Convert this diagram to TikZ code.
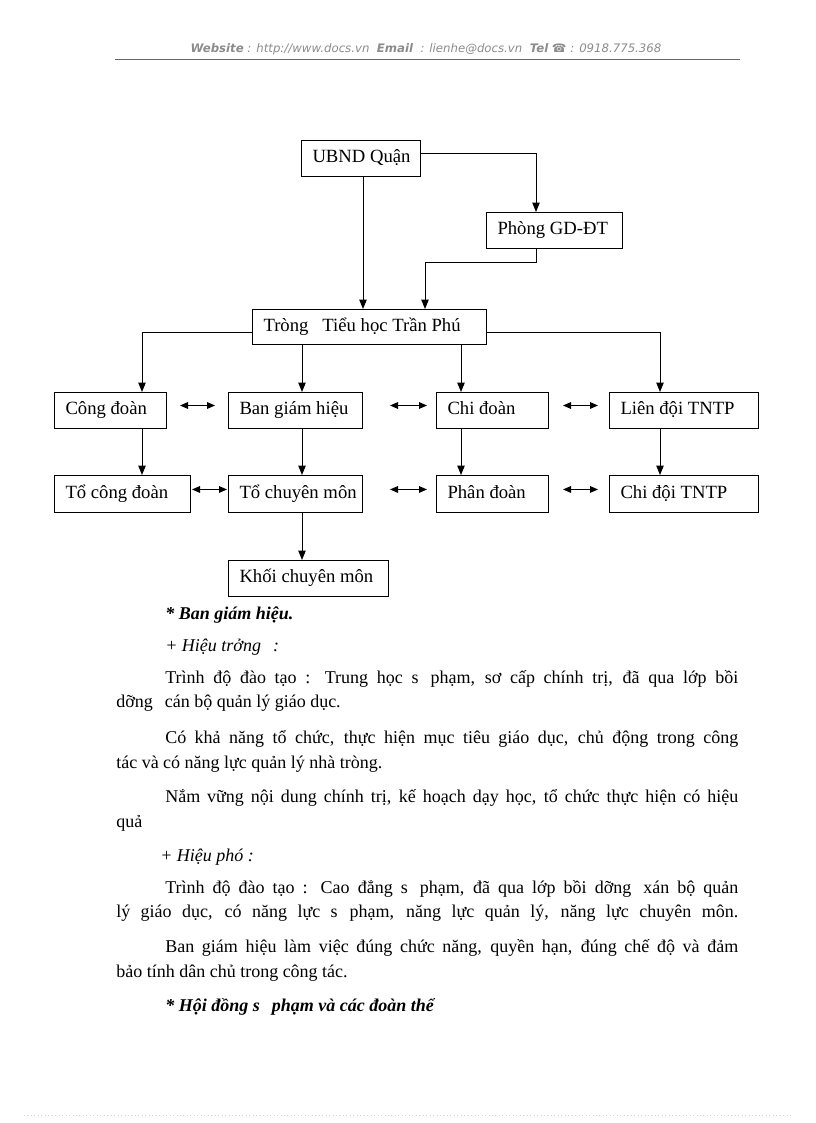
\documentclass[tikz,border=0pt]{standalone}
\usepackage{fontspec}
\setmainfont{Liberation Serif}
\newfontfamily\hdrfont{DejaVu Sans}
\usetikzlibrary{arrows.meta}
\newcommand\gapw{\hspace{9pt}}
\tikzset{
  box/.style={draw, line width=0.75pt, anchor=north west, inner xsep=8.25pt, inner ysep=0pt,
    font=\fontsize{14pt}{16pt}\selectfont, text height=9.5pt, text depth=3pt},
  arr/.style={line width=0.75pt, -{Triangle[length=7pt,width=5.5pt]}},
  darr/.style={line width=0.75pt, {Triangle[length=6pt,width=5pt]}-{Triangle[length=6pt,width=5pt]}},
  txt/.style={anchor=base west, inner sep=0pt, font=\fontsize{13.5pt}{16pt}\selectfont},
}
\begin{document}
\begin{tikzpicture}[x=0.75pt,y=-0.75pt]
\useasboundingbox[fill=white] (0,0) rectangle (816,1123);
% header
\node[anchor=base, inner sep=0pt, text=gray!90, font=\hdrfont\fontsize{8.8pt}{10pt}\selectfont\itshape] (hdr) at (426,53)
  {\textbf{Website} : http://www.docs.vn~~\textbf{Email}~~: lienhe@docs.vn~~\textbf{Tel} ☎ : 0918.775.368};
\draw[gray!80!black, line width=0.6pt] (115,59) -- (740,59);
\draw[gray!35, dotted, line width=0.6pt] (24,1115) -- (792,1115);

% boxes
\node[box, minimum width=89.25pt, minimum height=27pt] (ubnd) at (301,140) {\makebox[72.75pt][l]{UBND Quận}};
\node[box, minimum width=102pt, minimum height=27pt] (phong) at (486,212) {\makebox[85.5pt][l]{Phòng GD-ĐT}};
\node[box, minimum width=175.5pt, minimum height=26.25pt] (truong) at (252,309) {\makebox[159pt][l]{Tròng\hspace{10.5pt}Tiểu học Trần Phú}};
\node[box, minimum width=84pt, minimum height=27pt] (congdoan) at (54,392) {\makebox[67.5pt][l]{Công đoàn}};
\node[box, minimum width=100.5pt, minimum height=27pt] (bgh) at (228,392) {\makebox[84pt][l]{Ban giám hiệu}};
\node[box, minimum width=84pt, minimum height=27pt] (chidoan) at (436,392) {\makebox[67.5pt][l]{Chi đoàn}};
\node[box, minimum width=111.75pt, minimum height=27pt] (liendoi) at (609,392) {\makebox[95.25pt][l]{Liên đội TNTP}};
\node[box, minimum width=102pt, minimum height=27.75pt] (tocd) at (54,475) {\makebox[85.5pt][l]{Tổ công đoàn}};
\node[box, minimum width=100.5pt, minimum height=27.75pt] (tocm) at (228,475) {\makebox[84pt][l]{Tổ chuyên môn}};
\node[box, minimum width=84pt, minimum height=27.75pt] (phandoan) at (436,475) {\makebox[67.5pt][l]{Phân đoàn}};
\node[box, minimum width=111.75pt, minimum height=27.75pt] (chidoi) at (609,475) {\makebox[95.25pt][l]{Chi đội TNTP}};
\node[box, minimum width=120pt, minimum height=27pt] (khoi) at (228,560) {\makebox[103.5pt][l]{Khối chuyên môn}};

% guide coordinates
\coordinate (c0) at ([xshift=66pt]congdoan.north west);
\coordinate (c1) at ([xshift=55.5pt]bgh.north west);
\coordinate (c2) at ([xshift=18.75pt]chidoan.north west);
\coordinate (c3) at ([xshift=38.25pt]liendoi.north west);

% connectors
\draw[arr] ([yshift=3.75pt]ubnd.east) -| ([xshift=37.5pt]phong.north west);
\draw[arr] ([xshift=46.5pt]ubnd.south west) -- ([xshift=46.5pt]ubnd.south west |- truong.north);
\draw[arr] ([xshift=37.5pt]phong.south west) -- ++(0,13) -| ([xshift=129.75pt]truong.north west);
\draw[arr] ([yshift=-4.1pt]truong.west) -| (c0);
\draw[arr] (truong.south -| c1) -- (c1);
\draw[arr] (truong.south -| c2) -- (c2);
\draw[arr] ([yshift=-4.1pt]truong.east) -| (c3);
\draw[arr] (congdoan.south -| c0) -- (tocd.north -| c0);
\draw[arr] (bgh.south -| c1) -- (tocm.north -| c1);
\draw[arr] (chidoan.south -| c2) -- (phandoan.north -| c2);
\draw[arr] (liendoi.south -| c3) -- (chidoi.north -| c3);
\draw[arr] (tocm.south -| c1) -- (khoi.north -| c1);

\draw[darr] ([xshift=9.75pt,yshift=3.75pt]congdoan.east) -- ([xshift=-9.75pt,yshift=3.75pt]bgh.west);
\draw[darr] ([xshift=20.25pt,yshift=3.75pt]bgh.east) -- ([xshift=-6.75pt,yshift=3.75pt]chidoan.west);
\draw[darr] ([xshift=10.5pt,yshift=3.75pt]chidoan.east) -- ([xshift=-8.25pt,yshift=3.75pt]liendoi.west);
\draw[darr] ([xshift=0.75pt,yshift=3.4pt]tocd.east) -- ([xshift=-0.75pt,yshift=3.4pt]tocm.west);
\draw[darr] ([xshift=20.25pt,yshift=3.4pt]tocm.east) -- ([xshift=-6.75pt,yshift=3.4pt]phandoan.west);
\draw[darr] ([xshift=10.5pt,yshift=3.4pt]phandoan.east) -- ([xshift=-8.25pt,yshift=3.4pt]chidoi.west);

% body text
\node[txt] (l1) at (165,619) {\bfseries\itshape * Ban giám hiệu.};
\node[txt] (l2) at (165,651) {\itshape + Hiệu trởng\gapw :};
\node[txt] (l3) at (165,683) {\makebox[429.75pt][s]{Trình độ đào tạo : Trung học s\gapw phạm, sơ cấp chính trị, đã qua lớp bồi}};
\node[txt] (l4) at (116,707) {dỡng\gapw cán bộ quản lý giáo dục.};
\node[txt] (l5) at (165,743) {\makebox[429.75pt][s]{Có khả năng tổ chức, thực hiện mục tiêu giáo dục, chủ động trong công}};
\node[txt] (l6) at (116,768) {tác và có năng lực quản lý nhà tròng.};
\node[txt] (l7) at (165,802) {\makebox[429.75pt][s]{Nắm vững nội dung chính trị, kế hoạch dạy học, tổ chức thực hiện có hiệu}};
\node[txt] (l8) at (116,827) {quả};
\node[txt] (l9) at (160,861) {\itshape + Hiệu phó :};
\node[txt] (l10) at (165,893) {\makebox[429.75pt][s]{Trình độ đào tạo : Cao đẳng s\gapw phạm, đã qua lớp bồi dỡng\gapw xán bộ quản}};
\node[txt] (l11) at (116,917) {\makebox[466.5pt][s]{lý giáo dục, có năng lực s\gapw phạm, năng lực quản lý, năng lực chuyên môn.}};
\node[txt] (l12) at (165,952) {\makebox[429.75pt][s]{Ban giám hiệu làm việc đúng chức năng, quyền hạn, đúng chế độ và đảm}};
\node[txt] (l13) at (116,977) {bảo tính dân chủ trong công tác.};
\node[txt] (l14) at (165,1011) {\bfseries\itshape * Hội đồng s\gapw phạm và các đoàn thể};
\end{tikzpicture}
\end{document}
